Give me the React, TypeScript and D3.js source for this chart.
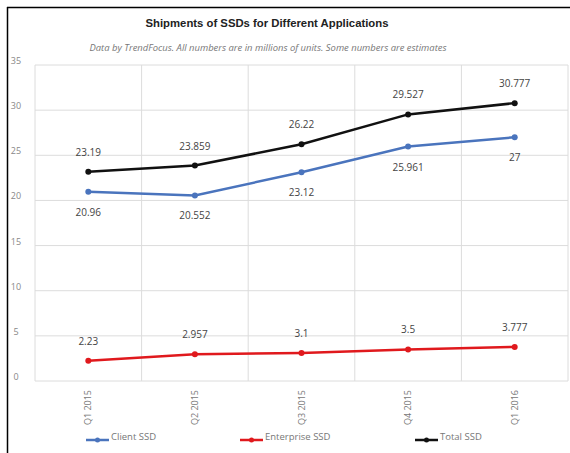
import React from "react";
import * as d3 from "d3";

const categories = ["Q1 2015", "Q2 2015", "Q3 2015", "Q4 2015", "Q1 2016"];
const clientSSD = [20.96, 20.552, 23.12, 25.961, 27];
const enterpriseSSD = [2.23, 2.957, 3.1, 3.5, 3.777];
const totalSSD = [23.19, 23.859, 26.22, 29.527, 30.777];
const yTicks = [0, 5, 10, 15, 20, 25, 30, 35];

const series = [
  { name: "Client SSD", values: clientSSD, color: "#4a74bd", labelPos: "below" },
  { name: "Enterprise SSD", values: enterpriseSSD, color: "#e0191d", labelPos: "above" },
  { name: "Total SSD", values: totalSSD, color: "#111111", labelPos: "above" },
];

const W = 570;
const H = 453;
const plot = { left: 35, right: 568, top: 65, bottom: 381 };
const font = "'Open Sans', 'Liberation Sans', sans-serif";

export default function App() {
  const x = d3.scaleBand<string>().domain(categories).range([plot.left, plot.right]);
  const y = d3.scaleLinear().domain([0, 35]).range([plot.bottom, plot.top]);
  const cx = (c: string) => (x(c) as number) + x.bandwidth() / 2;
  const line = d3
    .line<number>()
    .x((_, i) => cx(categories[i]))
    .y((d) => y(d));

  const legendX = [86, 240, 415];

  return (
    <svg width={W} height={H} style={{ position: "absolute", left: 0, top: 0, background: "#fff" }}>
      <rect x={0} y={0} width={W} height={H} fill="#fff" />
      <line x1={7} x2={W} y1={7.5} y2={7.5} stroke="#000" strokeWidth={1.5} />
      <line x1={7.5} x2={7.5} y1={7} y2={H} stroke="#000" strokeWidth={1.5} />

      <text x={267} y={27} textAnchor="middle" fontFamily="'Liberation Sans', Arial, sans-serif" fontWeight="bold" fontSize={11.5} fill="#222" textLength={243} lengthAdjust="spacingAndGlyphs">
        Shipments of SSDs for Different Applications
      </text>
      <text x={268} y={51} textAnchor="middle" fontFamily={font} fontStyle="italic" fontSize={8.5} fill="#777" textLength={357} lengthAdjust="spacingAndGlyphs">
        Data by TrendFocus. All numbers are in millions of units. Some numbers are estimates
      </text>

      {yTicks.map((t) => (
        <g key={t}>
          <line x1={plot.left} x2={plot.right} y1={y(t)} y2={y(t)} stroke="#dcdcdc" strokeWidth={1} />
          <text x={16} y={y(t) - 1} textAnchor="middle" fontFamily={font} fontSize={9} fill="#888">
            {t}
          </text>
        </g>
      ))}
      {categories.map((c) => (
        <line key={c} x1={x(c) as number} x2={x(c) as number} y1={plot.top} y2={plot.bottom} stroke="#dcdcdc" />
      ))}
      <line x1={plot.right} x2={plot.right} y1={plot.top} y2={plot.bottom} stroke="#dcdcdc" />

      {categories.map((c) => (
        <text
          key={c}
          transform={`translate(${cx(c) + 3},${plot.bottom + 9}) rotate(-90)`}
          textAnchor="end"
          fontFamily={font}
          fontSize={9}
          fill="#777"
        >
          {c}
        </text>
      ))}

      {series.map((s) => (
        <g key={s.name}>
          <path d={line(s.values) || ""} fill="none" stroke={s.color} strokeWidth={2.5} />
          {s.values.map((v, i) => (
            <circle key={i} cx={cx(categories[i])} cy={y(v)} r={3} fill={s.color} />
          ))}
          {s.values.map((v, i) => (
            <text
              key={"l" + i}
              x={cx(categories[i])}
              y={s.labelPos === "above" ? y(v) - 16 : y(v) + 24}
              textAnchor="middle"
              fontFamily={font}
              fontSize={10}
              fill="#444"
            >
              {String(v)}
            </text>
          ))}
        </g>
      ))}

      {series.map((s, i) => (
        <g key={"lg" + s.name}>
          <line x1={legendX[i]} x2={legendX[i] + 23} y1={440} y2={440} stroke={s.color} strokeWidth={2.5} />
          <circle cx={legendX[i] + 11.5} cy={440} r={2.5} fill={s.color} />
          <text x={legendX[i] + 25} y={440} fontFamily={font} fontSize={9.5} fill="#777">
            {s.name}
          </text>
        </g>
      ))}
    </svg>
  );
}
